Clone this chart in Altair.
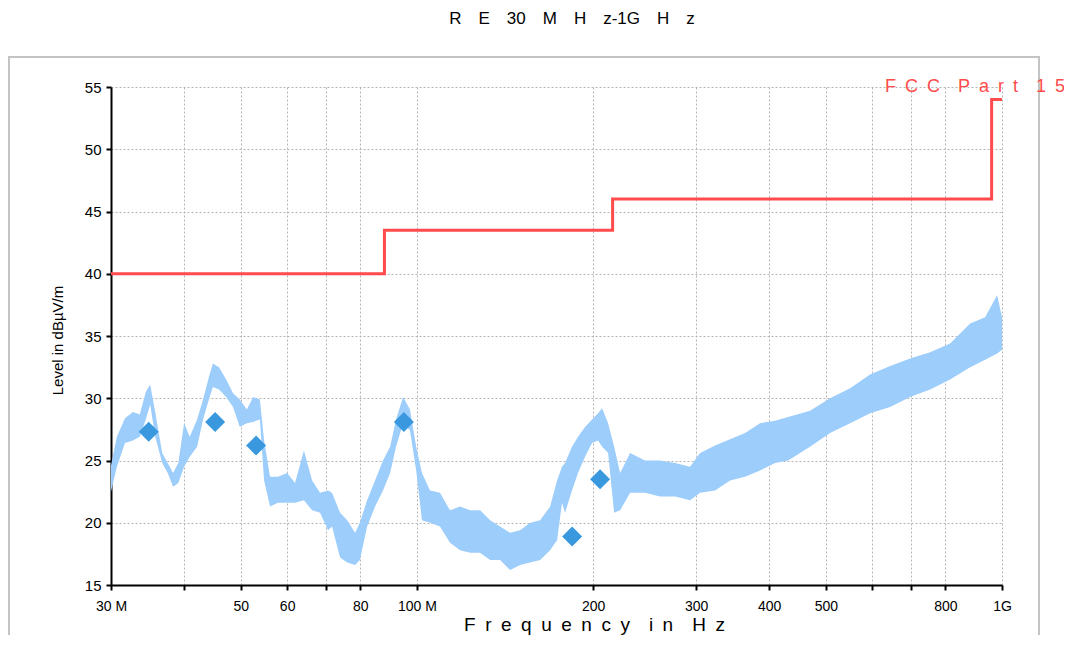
import altair as alt
import pandas as pd

EN = "\u2002"
EM = "\u2003"
chart_title = EM.join(["R", "E", "30", "M", "H", "z-1G", "H", "z"])
x_title = EM.join(EN.join(w) for w in ["Frequency", "in", "Hz"])
y_title = "Level in dBµV/m"
limit_label = EM.join(EN.join(w) for w in ["FCC", "Part", "15"])

# measured trace envelope (MHz, dBµV/m)
trace_freq = [30.0, 30.7, 31.7, 32.7, 33.6, 34.4, 35.0, 35.7, 36.7, 37.5, 38.3, 39.1, 40.0, 40.9,
              42.1, 43.1, 44.1, 44.8, 45.9, 47.2, 48.5, 49.8, 51.2, 52.5, 53.9, 54.8, 56.1, 57.9,
              60.0, 61.9, 64.1, 66.2, 68.3, 70.5, 71.6, 73.9, 76.0, 78.4, 79.9, 82.2, 84.8, 87.5,
              90.0, 92.1, 94.7, 97.3, 99.7, 102.0, 105.3, 109.5, 113.9, 118.5, 123.3, 128.2, 133.4,
              138.7, 144.3, 150.1, 156.1, 162.4, 168.9, 173.6, 177.0, 179.1, 184.1, 188.5, 193.8,
              199.2, 204.0, 207.3, 212.2, 217.3, 222.5, 231.4, 245.4, 260.3, 276.2, 293.0, 304.8,
              323.3, 342.9, 363.8, 385.9, 409.4, 430.9, 469.8, 508.3, 550.0, 595.0, 643.8, 696.6,
              753.6, 815.4, 882.2, 935.8, 981.0, 1000.0]
trace_max = [24.6, 26.9, 28.4, 28.9, 28.7, 30.5, 31.1, 28.9, 25.6, 24.8, 24.0, 24.8, 28.0, 26.9,
             28.3, 29.9, 31.7, 32.8, 32.5, 31.5, 30.4, 29.9, 29.1, 30.1, 29.9, 26.6, 23.7, 23.7,
             24.0, 23.2, 25.8, 23.4, 22.4, 22.6, 22.4, 20.8, 20.2, 19.2, 20.0, 21.8, 23.4, 25.0,
             26.1, 28.3, 30.1, 29.1, 26.1, 24.0, 22.6, 22.4, 21.0, 21.3, 21.0, 21.0, 20.2,
             19.7, 19.2, 19.4, 20.0, 20.2, 21.3, 23.4, 24.5, 24.8, 26.1, 26.9, 27.7,
             28.3, 28.8, 29.2, 28.0, 26.1, 24.0, 25.6, 25.0, 25.0, 24.8, 24.5, 25.6,
             26.2, 26.7, 27.2, 28.0, 28.2, 28.5, 29.0, 30.0, 30.8, 31.9, 32.6, 33.2,
             33.7, 34.4, 36.0, 36.5, 38.3, 36.5]
trace_min = [22.5, 24.5, 26.4, 26.6, 26.9, 28.3, 29.5, 26.9, 24.8, 24.0, 22.9, 23.2, 24.5, 25.3,
             26.1, 28.3, 29.9, 30.9, 30.7, 30.1, 29.3, 27.7, 28.0, 28.1, 28.3, 23.4, 21.3, 21.6,
             21.6, 21.6, 21.8, 21.0, 20.8, 19.4, 19.7, 17.2, 16.8, 16.6, 17.0, 19.7, 21.3, 22.6,
             24.0, 26.1, 28.0, 27.4, 24.2, 20.2, 20.0, 19.7, 18.4, 17.8, 17.6, 17.6, 17.0,
             17.0, 16.2, 16.6, 16.8, 17.0, 17.8, 18.6, 21.6, 20.8, 22.6, 24.0, 25.3,
             26.4, 26.6, 26.1, 25.6, 20.8, 21.0, 22.4, 22.4, 22.1, 22.1, 21.8, 22.4,
             22.6, 23.4, 23.7, 24.2, 24.8, 25.0, 26.1, 27.2, 28.0, 28.8, 29.3, 30.1,
             30.7, 31.5, 32.5, 33.1, 33.6, 33.9]

peak_freq = [34.8, 45.2, 53.1, 95.0, 184.2, 205.6]
peak_level = [27.3, 28.1, 26.2, 28.1, 18.9, 23.5]

limit_freq = [30, 88, 216, 960, 1000]
limit_level = [40.0, 43.5, 46.0, 54.0, 54.0]

x_tick_values = [30, 40, 50, 60, 70, 80, 100, 200, 300, 400, 500, 600, 700, 800, 1000]
x_tick_labels = ["30 M", "", "50", "60", "", "80", "100 M", "200", "300", "400", "500", "", "", "800", "1G"]
y_tick_values = [15, 17.5, 20, 22.5, 25, 27.5, 30, 32.5, 35, 37.5, 40, 42.5, 45, 47.5, 50, 52.5, 55]

FONT = "Liberation Sans"
TRACE_COLOR = "#9dcdfb"
PEAK_COLOR = "#3a98de"
LIMIT_COLOR = "#ff4b4b"

trace_df = pd.DataFrame({"freq": trace_freq, "hi": trace_max, "lo": trace_min})
peak_df = pd.DataFrame({"freq": peak_freq, "level": peak_level})
limit_df = pd.DataFrame({"freq": limit_freq, "level": limit_level})

x_label_expr = "".join(f"datum.value == {v} ? '{t}' : " for v, t in zip(x_tick_values, x_tick_labels)) + "''"

x_scale = alt.Scale(type="log", domain=[30, 1000], nice=False)
y_scale = alt.Scale(domain=[15, 55], nice=False, zero=False)

x_axis = alt.Axis(
    values=x_tick_values, labelExpr=x_label_expr, labelOverlap=False, labelFlush=False,
    grid=True, gridDash=[2, 2], gridColor="#b4b4b4", gridWidth=1,
    domainColor="black", domainWidth=2, tickColor="black", tickWidth=2, tickSize=5,
    labelFont=FONT, labelFontSize=14, labelColor="black", labelPadding=9,
    title=x_title, titleFont=FONT, titleFontSize=19, titleFontWeight="normal", titleColor="black",
    titleX=483, titleY=45, titleAlign="center", titleBaseline="alphabetic", titleAngle=0,
)
y_axis = alt.Axis(
    values=y_tick_values, labelExpr="datum.value % 5 == 0 ? datum.label : ''", labelOverlap=False,
    labelFlush=False,
    grid=True, gridDash=[2, 2], gridColor="#b4b4b4", gridWidth=1,
    domainColor="black", domainWidth=2, tickColor="black", tickWidth=2, tickSize=5,
    labelFont=FONT, labelFontSize=15, labelColor="black", labelPadding=5,
    title=y_title, titleFont=FONT, titleFontSize=15, titleFontWeight="normal", titleColor="black",
    titleX=-54, titleY=253, titleAlign="center", titleBaseline="middle", titleAngle=270,
)

frame = alt.Chart(pd.DataFrame({"k": [0]})).mark_rect(
    fill="transparent", stroke="#c4c4c4", strokeWidth=2
).encode(x=alt.value(-102), x2=alt.value(928), y=alt.value(-30), y2=alt.value(640))

heading = alt.Chart(pd.DataFrame({"t": [chart_title]})).mark_text(
    align="center", baseline="alphabetic", fontSize=17, font=FONT, color="black"
).encode(x=alt.value(461), y=alt.value(-63), text="t:N")

band = alt.Chart(trace_df).mark_area(color=TRACE_COLOR, opacity=1, interpolate="linear").encode(
    x=alt.X("freq:Q", scale=x_scale, axis=x_axis),
    y=alt.Y("hi:Q", scale=y_scale, axis=y_axis),
    y2="lo:Q",
)

limit = alt.Chart(limit_df).mark_line(color=LIMIT_COLOR, strokeWidth=3, interpolate="step-after").encode(
    x=alt.X("freq:Q", scale=x_scale),
    y=alt.Y("level:Q", scale=y_scale),
)

peaks = alt.Chart(peak_df).mark_point(shape="diamond", filled=True, size=400, color=PEAK_COLOR, opacity=1).encode(
    x=alt.X("freq:Q", scale=x_scale),
    y=alt.Y("level:Q", scale=y_scale),
)

label = alt.Chart(pd.DataFrame({"t": [limit_label]})).mark_text(
    align="right", baseline="alphabetic", dx=63, dy=5, fontSize=18, font=FONT, color=LIMIT_COLOR
).encode(x=alt.datum(1000), y=alt.datum(55), text="t:N")

chart = alt.layer(frame, heading, band, limit, peaks, label).properties(
    width=891, height=498,
    autosize=alt.AutoSizeParams(type="none"),
    padding={"left": 103, "top": 79, "right": 62, "bottom": 50},
).configure_view(stroke="transparent")

chart.save("out.html", embed_options={"renderer": "svg", "actions": False})
